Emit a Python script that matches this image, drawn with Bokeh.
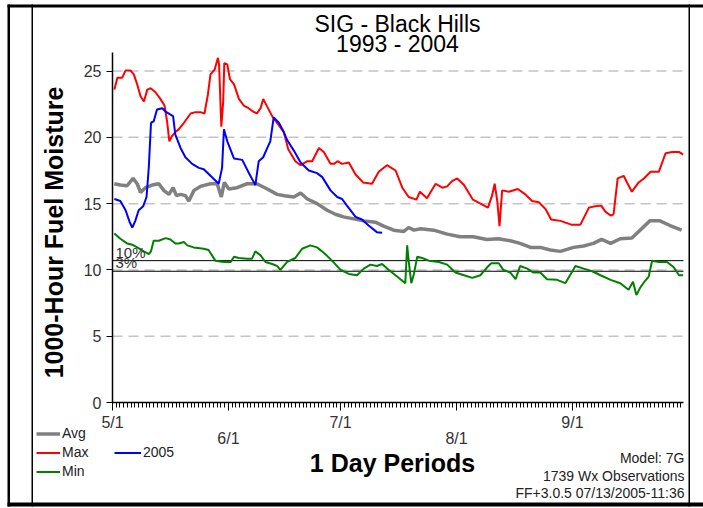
import numpy as np
from bokeh.plotting import figure
from bokeh.models import (Range1d, FixedTicker, LinearAxis, Label,
                          BoxAnnotation, Legend, LegendItem)
from bokeh.embed import file_html
from bokeh.resources import INLINE

# ---------------- data (x = days since May 1) ----------------
month_days = [0, 31, 61, 92, 123]
month_labels = ["5/1", "6/1", "7/1", "8/1", "9/1"]
y_ticks = [0, 5, 10, 15, 20, 25]
grid_values = [5, 10, 15, 20, 25]
pct_values = [10.7, 9.9]
pct_labels = ["10%", "3%"]

avg_day = [0.5, 2.1, 3.9, 5.5, 6.6, 7.5, 8.8, 10.6, 12.4, 13.7, 15.1, 16.2, 17.1, 18.2, 19.5,
           20.4, 21.8, 23.5, 26.2, 28.0, 29.1, 29.9, 31.1, 33.3, 36.0, 38.6, 41.4, 44.0, 46.0,
           48.5, 50.3, 52.1, 54.7, 57.4, 59.6, 61.8, 64.5, 67.2, 70.3, 72.5, 75.2, 77.9, 79.2,
           80.6, 82.4, 85.9, 89.5, 93.0, 96.5, 100.1, 103.2, 106.4, 109.0, 111.8, 114.4, 117.1,
           119.8, 123.3, 126.0, 128.6, 130.8, 133.2, 135.8, 138.9, 141.5, 143.7, 146.4, 149.1, 152.2]
avg_val = [16.5, 16.4, 16.35, 16.9, 16.5, 15.85, 16.2, 16.4, 16.5, 16.0, 15.7, 16.2, 15.6, 15.7, 15.6,
           15.2, 16.0, 16.3, 16.5, 16.5, 15.5, 16.6, 16.1, 16.2, 16.5, 16.5, 16.1, 15.7, 15.6,
           15.5, 15.8, 15.35, 15.0, 14.5, 14.2, 14.0, 13.85, 13.7, 13.6, 13.3, 13.0, 12.9, 13.2,
           13.0, 13.1, 13.0, 12.7, 12.5, 12.5, 12.3, 12.35, 12.2, 12.0, 11.7, 11.7, 11.5,
           11.4, 11.7, 11.8, 12.0, 12.3, 12.0, 12.35, 12.4, 13.1, 13.7, 13.7, 13.35, 13.0]

max_day = [0.5, 1.3, 2.6, 3.5, 4.8, 5.7, 6.6, 7.5, 8.4, 9.3, 10.2, 11.5, 12.8, 13.9, 14.6, 15.2,
           15.9, 16.8, 17.7, 19.1, 20.9, 22.2, 23.5, 24.6, 25.5, 26.2, 27.3, 28.2, 28.5, 29.1,
           29.6, 29.9, 30.7, 31.4, 32.5, 33.8, 35.1, 36.4, 37.3, 38.6, 39.6, 40.3, 41.4, 42.7,
           44.5, 45.8, 47.0, 48.9, 50.3, 52.1, 53.4, 55.2, 56.5, 58.3, 59.2, 60.2, 61.4, 63.2,
           65.0, 67.0, 69.4, 71.2, 73.4, 75.7, 77.5, 79.2, 81.3, 82.2, 84.1, 86.4, 88.2, 89.5,
           90.8, 92.2, 94.0, 96.4, 98.4, 100.4, 101.5, 102.2, 102.9, 103.5, 104.2, 106.0, 108.4,
           110.4, 112.2, 114.0, 115.8, 117.3, 119.8, 122.9, 125.1, 127.4, 129.1, 130.7, 131.8,
           133.2, 134.0, 135.1, 136.7, 137.6, 138.9, 140.7, 142.1, 143.9, 146.1, 147.9, 149.7,
           151.5, 152.6]
max_val = [23.6, 24.5, 24.5, 25.05, 25.05, 24.75, 24.0, 23.1, 22.7, 23.6, 23.7, 23.4, 22.9, 22.4, 21.2, 19.7,
           20.1, 20.4, 20.6, 21.1, 21.8, 21.9, 21.9, 21.8, 23.2, 24.75, 25.1, 26.0, 25.5, 20.8,
           22.7, 25.6, 25.5, 24.4, 24.0, 22.9, 22.4, 22.2, 22.0, 21.8, 22.2, 22.9, 22.3, 21.6,
           20.9, 20.4, 19.1, 18.2, 17.9, 18.2, 18.2, 19.2, 18.9, 18.0, 18.0, 18.2, 18.0, 18.1,
           17.2, 16.6, 16.5, 17.4, 17.9, 17.5, 16.2, 15.5, 15.3, 15.9, 15.4, 16.5, 16.2, 16.3,
           16.7, 16.9, 16.4, 15.3, 15.0, 14.7, 15.6, 16.5, 15.2, 13.3, 16.0, 15.9, 16.1,
           15.7, 15.2, 15.1, 14.6, 13.8, 13.7, 13.4, 13.4, 14.7, 14.8, 14.85, 14.4,
           14.1, 14.2, 16.9, 17.1, 16.6, 15.9, 16.6, 16.9, 17.4, 17.4, 18.8, 18.9,
           18.9, 18.7]

min_day = [0.5, 2.1, 3.9, 5.3, 6.6, 8.4, 9.7, 10.3, 11.0, 12.4, 14.2, 15.5, 16.8, 17.7, 19.1,
           20.0, 21.7, 24.4, 25.7, 27.5, 29.8, 31.6, 32.5, 33.8, 36.0, 37.3, 38.2, 39.6, 40.9,
           42.7, 44.0, 44.9, 46.7, 48.9, 50.7, 52.9, 54.7, 56.5, 58.7, 61.0, 63.2, 65.4, 67.2,
           69.0, 70.7, 72.1, 73.9, 76.1, 78.3, 78.8, 79.2, 79.9, 80.6, 81.5, 82.8, 84.6, 87.3,
           89.5, 91.7, 94.0, 96.2, 98.4, 100.2, 101.3, 103.3, 104.5, 106.4, 107.8, 109.0, 110.9,
           112.6, 114.4, 116.2, 118.9, 121.1, 123.8, 126.0, 128.3, 130.5, 133.2, 135.8, 138.0,
           139.2, 140.1, 141.2, 142.5, 143.4, 144.3, 146.1, 148.3, 150.1, 151.5, 152.6]
min_val = [12.75, 12.35, 12.0, 11.9, 11.7, 11.4, 11.2, 11.4, 12.2, 12.2, 12.4, 12.3, 12.0, 12.0, 12.1,
           11.85, 11.7, 11.6, 11.5, 10.7, 10.6, 10.6, 11.0, 10.9, 10.85, 10.85, 11.4, 11.1, 10.6,
           10.45, 10.3, 10.0, 10.6, 10.9, 11.6, 11.85, 11.7, 11.3, 10.7, 10.0, 9.7, 9.6, 10.1,
           10.4, 10.3, 10.45, 10.0, 9.5, 9.0, 11.85, 10.7, 9.0, 9.7, 11.0, 10.9, 10.7, 10.6,
           10.4, 9.8, 9.6, 9.4, 9.6, 10.2, 10.5, 10.5, 10.0, 9.8, 9.3, 10.3, 10.1,
           9.8, 9.8, 9.3, 9.25, 9.0, 10.3, 10.1, 9.9, 9.6, 9.25, 9.0, 8.5,
           9.1, 8.1, 8.7, 9.2, 9.5, 10.7, 10.6, 10.6, 10.2, 9.6, 9.6]

y2005_day = [0.5, 2.1, 3.5, 4.6, 5.3, 6.1, 7.0, 8.2, 9.1, 9.7, 10.3, 11.0, 11.9, 13.3, 14.4, 16.2,
             16.8, 18.2, 19.5, 21.3, 23.1, 24.4, 26.2, 28.4, 29.3, 29.8, 30.7, 32.5, 34.7, 36.4,
             38.2, 39.1, 40.3, 41.4, 42.2, 43.1, 44.5, 45.8, 46.7, 48.5, 50.3, 52.5, 54.7, 56.1,
             58.3, 60.1, 61.4, 62.7, 65.0, 66.7, 68.5, 70.7, 72.1]
y2005_val = [15.35, 15.2, 14.5, 13.6, 13.2, 13.7, 14.5, 14.8, 15.5, 17.7, 21.1, 21.2, 22.1, 22.2, 21.9, 21.6,
             20.2, 19.2, 18.5, 18.0, 17.7, 17.6, 17.1, 16.5, 17.7, 20.6, 19.7, 18.4, 18.3, 17.35,
             16.4, 18.2, 18.5, 19.2, 19.7, 21.5, 21.1, 20.4, 19.8, 19.0, 18.1, 17.5, 17.3, 17.0,
             16.0, 15.5, 15.35, 14.85, 14.0, 13.8, 13.35, 12.85, 12.8]

# ---------------- layout ----------------
FONT = "Liberation Sans"
W, H = 703, 508
L, R, T, B = 112, 683, 52, 402   # chart area in canvas pixels
XMAX, YMAX = 152.7, 26.4


def X(px):
    return (px - L) / (R - L) * XMAX


def Y(py):
    return (B - py) / (B - T) * YMAX


# the frame covers the whole canvas so that every text can be drawn in it
p = figure(width=W, height=H, output_backend="svg", toolbar_location=None,
           x_range=Range1d(X(0), X(W)), y_range=Range1d(Y(H), Y(0)),
           x_axis_location=None, y_axis_location=None,
           min_border_left=0, min_border_right=0, min_border_top=0, min_border_bottom=0,
           background_fill_color="white", border_fill_color="white")
p.outline_line_color = None
p.xgrid.visible = False
p.ygrid.visible = False

# dashed horizontal grid over the chart area
p.segment(x0=[0] * len(grid_values), x1=[XMAX] * len(grid_values), y0=grid_values,
          y1=grid_values, line_color="#c4c4c4", line_width=1.5, line_dash="10 6")

tick_font = dict(major_label_text_font=FONT, major_label_text_font_size="16px",
                 major_label_text_color="#333333")
xa = LinearAxis(fixed_location=0, bounds=(0, XMAX),
                ticker=FixedTicker(ticks=month_days, minor_ticks=list(range(0, 153))),
                major_label_overrides={d: (lab if i % 2 == 0 else "")
                                       for i, (d, lab) in enumerate(zip(month_days, month_labels))},
                axis_line_width=1.5, major_tick_out=8, major_tick_in=0,
                minor_tick_out=5, minor_tick_in=0, major_label_standoff=3, **tick_font)
p.add_layout(xa, "below")
xa2 = LinearAxis(fixed_location=0, bounds=(0, XMAX),
                 ticker=FixedTicker(ticks=month_days[1::2]),
                 major_label_overrides={d: lab for d, lab in zip(month_days[1::2], month_labels[1::2])},
                 axis_line_color=None, major_tick_line_color=None, minor_tick_line_color=None,
                 major_tick_out=0, major_tick_in=0, minor_tick_out=0, minor_tick_in=0,
                 major_label_standoff=27, **tick_font)
p.add_layout(xa2, "below")
ya = LinearAxis(fixed_location=0, bounds=(0, YMAX), ticker=FixedTicker(ticks=y_ticks),
                axis_line_width=1.5, major_tick_out=6, major_tick_in=0,
                minor_tick_out=0, minor_tick_in=0, major_label_standoff=5, **tick_font)
p.add_layout(ya, "left")

# 10% / 3% reference lines
p.segment(x0=[0] * len(pct_values), x1=[XMAX] * len(pct_values), y0=pct_values,
          y1=pct_values, line_color="black", line_width=1)
for v, lab in zip(pct_values, pct_labels):
    p.add_layout(Label(x=0, y=v, x_offset=3, text=lab, text_font=FONT,
                       text_font_size="15px", text_color="#333333", text_baseline="bottom"))

r_avg = p.line(avg_day, avg_val, line_color="#808080", line_width=3.5)
r_max = p.line(max_day, max_val, line_color="#ff0000", line_width=2)
r_2005 = p.line(y2005_day, y2005_val, line_color="#0000ff", line_width=2)
r_min = p.line(min_day, min_val, line_color="#008000", line_width=2)

leg_common = dict(padding=0, spacing=0, margin=0, border_line_color=None,
                  background_fill_alpha=0, glyph_height=19, label_height=19,
                  label_standoff=2, label_text_font=FONT, label_text_font_size="14px",
                  label_text_color="#222222")
leg1 = Legend(items=[LegendItem(label="Avg", renderers=[r_avg]),
                     LegendItem(label="Max", renderers=[r_max]),
                     LegendItem(label="Min", renderers=[r_min])],
              location=(36, H - 480.5), glyph_width=24, **leg_common)
leg2 = Legend(items=[LegendItem(label="2005", renderers=[r_2005])],
              location=(114, H - 461.5), glyph_width=27, **leg_common)
p.add_layout(leg1)
p.add_layout(leg2)

# texts
p.add_layout(Label(x=X(397), y=Y(23), text="SIG - Black Hills", text_font=FONT,
                   text_font_size="23px", text_color="black",
                   text_align="center", text_baseline="middle"))
p.add_layout(Label(x=X(397), y=Y(43), text="1993 - 2004", text_font=FONT,
                   text_font_size="23px", text_color="black",
                   text_align="center", text_baseline="middle"))
p.add_layout(Label(x=X(53), y=Y(232), text="1000-Hour Fuel Moisture", text_font=FONT,
                   text_font_size="25px", text_font_style="bold", angle=np.pi / 2,
                   text_color="black", text_align="center", text_baseline="middle"))
p.add_layout(Label(x=X(392), y=Y(462), text="1 Day Periods", text_font=FONT,
                   text_font_size="25px", text_font_style="bold", text_color="black",
                   text_align="center", text_baseline="middle"))
for txt, yy in (("Model: 7G", 457), ("1739 Wx Observations", 475),
                ("FF+3.0.5 07/13/2005-11:36", 492)):
    p.add_layout(Label(x=X(684), y=Y(yy), text=txt, text_font=FONT, text_font_size="14px",
                       text_color="#222222", text_align="right", text_baseline="middle"))

# table-cell frame lines
for (x0, x1, y0, y1) in ((7, 9.5, 4, 506), (31, 32.5, 4, 506), (688, 689.5, 4, 506),
                         (7, 703, 4, 7), (7, 703, 502, 506)):
    p.add_layout(BoxAnnotation(left=X(x0), right=X(x1), top=Y(y0), bottom=Y(y1),
                               fill_color="black", fill_alpha=1, line_color=None))

open("out.html", "w").write(file_html(p, INLINE))
